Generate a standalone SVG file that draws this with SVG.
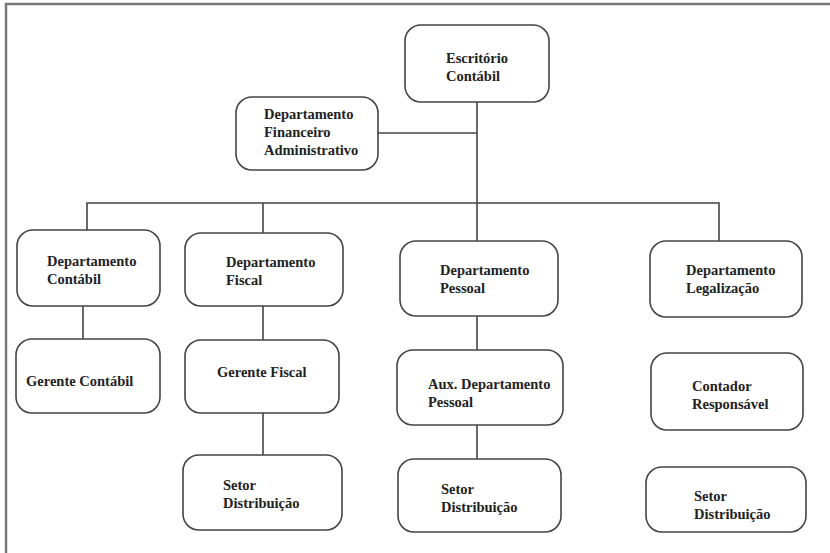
<svg xmlns="http://www.w3.org/2000/svg" width="830" height="553" viewBox="0 0 830 553">
<style>
.box{fill:#fff;stroke:#444;stroke-width:1.6}
.t{font-family:'Liberation Serif','Times New Roman','DejaVu Serif',serif;font-weight:bold;font-size:14.5px;fill:#222}
.c{fill:none;stroke:#444;stroke-width:1.6}
</style>
<rect width="830" height="553" fill="#fff"/>
<path d="M6 553 V4 H830" fill="none" stroke="#777" stroke-width="2.5"/>
<g id="connectors">
<path class="c" d="M477 102 V203"/>
<path class="c" d="M378 133 H477"/>
<path class="c" d="M87 231 V203 H719 V241"/>
<path class="c" d="M263 203 V234"/>
<path class="c" d="M477 203 V241"/>
<path class="c" d="M83 306 V339"/>
<path class="c" d="M263 306 V340"/>
<path class="c" d="M477 316 V350"/>
<path class="c" d="M263 413 V455"/>
<path class="c" d="M477 425 V459"/>
</g>
<g id="escritorio"><rect class="box" x="405" y="25" width="144" height="77" rx="16"/><text class="t" x="446" y="63">Escritório</text><text class="t" x="446" y="81">Contábil</text></g>
<g id="financeiro"><rect class="box" x="236" y="97" width="142" height="73" rx="16"/><text class="t" x="264" y="119">Departamento</text><text class="t" x="264" y="137">Financeiro</text><text class="t" x="264" y="155">Administrativo</text></g>
<g id="dep-contabil"><rect class="box" x="17" y="230" width="143" height="76" rx="16"/><text class="t" x="47" y="266">Departamento</text><text class="t" x="47" y="284">Contábil</text></g>
<g id="dep-fiscal"><rect class="box" x="185" y="233" width="158" height="73" rx="16"/><text class="t" x="226" y="267">Departamento</text><text class="t" x="226" y="285">Fiscal</text></g>
<g id="dep-pessoal"><rect class="box" x="400" y="241" width="158" height="75" rx="16"/><text class="t" x="440" y="275">Departamento</text><text class="t" x="440" y="293">Pessoal</text></g>
<g id="dep-legal"><rect class="box" x="650" y="241" width="152" height="76" rx="16"/><text class="t" x="686" y="275">Departamento</text><text class="t" x="686" y="293">Legalização</text></g>
<g id="gerente-contabil"><rect class="box" x="16" y="339" width="144" height="74" rx="16"/><text class="t" x="26" y="386">Gerente Contábil</text></g>
<g id="gerente-fiscal"><rect class="box" x="185" y="340" width="154" height="73" rx="16"/><text class="t" x="217" y="377">Gerente Fiscal</text></g>
<g id="aux-pessoal"><rect class="box" x="397" y="350" width="166" height="75" rx="16"/><text class="t" x="428" y="389">Aux. Departamento</text><text class="t" x="428" y="407">Pessoal</text></g>
<g id="contador"><rect class="box" x="651" y="353" width="152" height="77" rx="16"/><text class="t" x="692" y="391">Contador</text><text class="t" x="692" y="409">Responsável</text></g>
<g id="setor-fiscal"><rect class="box" x="183" y="455" width="159" height="75" rx="16"/><text class="t" x="223" y="490">Setor</text><text class="t" x="223" y="508">Distribuição</text></g>
<g id="setor-pessoal"><rect class="box" x="398" y="459" width="163" height="73" rx="16"/><text class="t" x="441" y="494">Setor</text><text class="t" x="441" y="512">Distribuição</text></g>
<g id="setor-legal"><rect class="box" x="646" y="467" width="160" height="65" rx="16"/><text class="t" x="694" y="501">Setor</text><text class="t" x="694" y="519">Distribuição</text></g>
</svg>
